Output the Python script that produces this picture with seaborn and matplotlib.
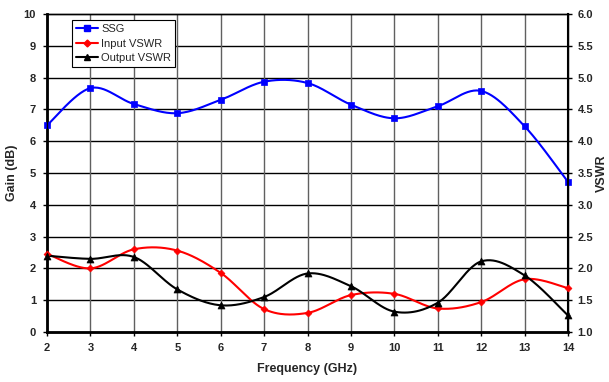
import numpy as np
import pandas as pd
import matplotlib
matplotlib.use("Agg")
import matplotlib.pyplot as plt
from matplotlib.lines import Line2D
import seaborn as sns

freq_ghz = [2, 3, 4, 5, 6, 7, 8, 9, 10, 11, 12, 13, 14]
ssg_db = [6.5, 7.67, 7.17, 6.88, 7.3, 7.87, 7.83, 7.15, 6.72, 7.1, 7.58, 6.47, 4.72]
input_vswr = [2.23, 2.0, 2.3, 2.28, 1.93, 1.36, 1.3, 1.58, 1.6, 1.37, 1.47, 1.83, 1.69]
output_vswr = [2.2, 2.15, 2.18, 1.67, 1.42, 1.55, 1.92, 1.72, 1.32, 1.46, 2.11, 1.89, 1.26]

gain_ticks = list(range(0, 11))
vswr_ticks = [1.0, 1.5, 2.0, 2.5, 3.0, 3.5, 4.0, 4.5, 5.0, 5.5, 6.0]


def smooth_curve(x, y, n=30):
    """Cubic Bezier smoothing through every point (spreadsheet-style)."""
    p = np.column_stack([x, y]).astype(float)
    ext = np.vstack([p[0], p, p[-1]])
    out = []
    t = np.linspace(0, 1, n)[:, None]
    for i in range(len(p) - 1):
        p0, p3 = ext[i + 1], ext[i + 2]
        c1 = p0 + (ext[i + 2] - ext[i]) / 6.0
        c2 = p3 - (ext[i + 3] - ext[i + 1]) / 6.0
        seg = ((1 - t) ** 3) * p0 + 3 * ((1 - t) ** 2) * t * c1 + 3 * (1 - t) * t ** 2 * c2 + t ** 3 * p3
        out.append(seg if i == 0 else seg[1:])
    s = np.vstack(out)
    return pd.DataFrame({"x": s[:, 0], "y": s[:, 1]})


sns.set_style("white")
plt.rcParams["font.family"] = ["Liberation Sans", "DejaVu Sans"]

fig = plt.figure(figsize=(6.09, 3.82), dpi=100)
ax = fig.add_axes([47 / 609, 1 - 332 / 382, (568 - 47) / 609, (332 - 14) / 382])
ax2 = ax.twinx()

ax.set_xlim(2, 14)
ax.set_ylim(0, 10)
ax2.set_ylim(1, 6)
ax.set_xticks(freq_ghz)
ax.set_yticks(gain_ticks)
ax2.set_yticks(vswr_ticks)
ax2.set_yticklabels([f"{v:.1f}" for v in vswr_ticks])

# grid: black horizontals, grey verticals
for g in gain_ticks[1:-1]:
    ax.axhline(g, color="black", lw=1.0, zorder=0)
for f in freq_ghz[1:-1]:
    ax.axvline(f, color="#606060", lw=1.0, zorder=0)

series = [
    (ax, freq_ghz, ssg_db, "#0000FF", "s", 5, "SSG"),
    (ax2, freq_ghz, input_vswr, "#FF0000", "D", 3.5, "Input VSWR"),
    (ax2, freq_ghz, output_vswr, "#000000", "^", 5, "Output VSWR"),
]
handles = []
for a, x, y, col, mk, ms, lab in series:
    sm = smooth_curve(x, y)
    sns.lineplot(data=sm, x="x", y="y", ax=a, color=col, lw=1.5, sort=False,
                 estimator=None, legend=False, zorder=3)
    sns.scatterplot(x=x, y=y, ax=a, color=col, marker=mk, s=ms ** 2,
                    edgecolor=col, linewidth=0.5, legend=False, zorder=4, clip_on=False)
    handles.append(Line2D([], [], color=col, lw=1.5, marker=mk, markersize=ms,
                          markeredgecolor=col, label=lab))

ax.set_xlabel("Frequency (GHz)", fontsize=9, fontweight="bold", labelpad=7)
ax.set_ylabel("Gain (dB)", fontsize=9, fontweight="bold", labelpad=4)
ax2.set_ylabel("VSWR", fontsize=9, fontweight="bold", labelpad=2)
ax2.set_xlabel("")

for a in (ax, ax2):
    for sp in a.spines.values():
        sp.set_color("black")
        sp.set_linewidth(1.0)
ax.spines["left"].set_linewidth(2.0)
ax.spines["bottom"].set_linewidth(2.0)
ax2.spines["right"].set_linewidth(1.5)

ax.tick_params(axis="both", which="major", labelsize=8, length=3, width=1,
               direction="out", color="black", pad=5)
ax.tick_params(axis="x", pad=5)
ax2.tick_params(axis="y", labelsize=8, length=3, width=1, direction="out",
                color="black", pad=4)
for lbl in ax.get_xticklabels() + ax.get_yticklabels() + ax2.get_yticklabels():
    lbl.set_fontweight("bold")
ax.tick_params(left=True, bottom=True)
ax2.tick_params(right=True)

leg = ax2.legend(handles=handles, loc="upper left", bbox_to_anchor=(25 / 521, 0.98),
                 fontsize=8, frameon=True, fancybox=False, handlelength=2.0,
                 handletextpad=0.3, borderpad=0.35, labelspacing=0.4, borderaxespad=0)
leg.get_frame().set_edgecolor("black")
leg.get_frame().set_linewidth(0.8)
leg.get_frame().set_alpha(1)

fig.savefig("out.png", dpi=100, facecolor="white")
